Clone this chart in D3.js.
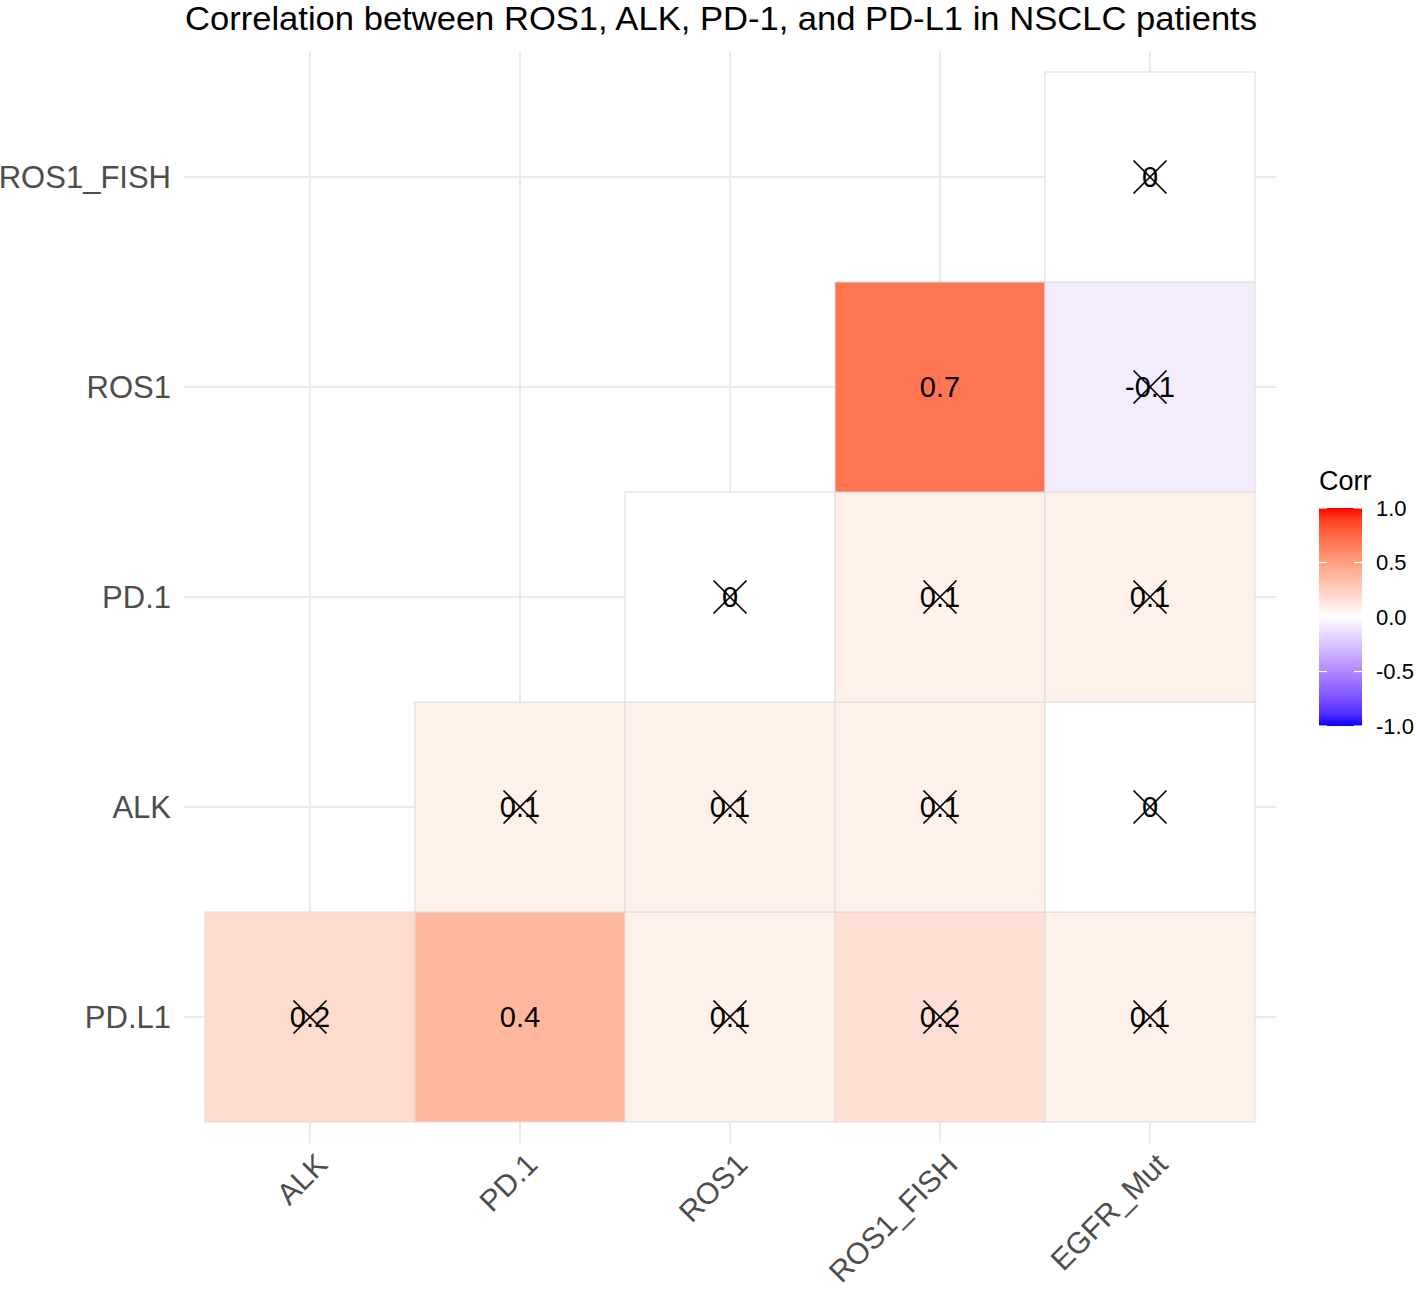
<!DOCTYPE html>
<html>
<head>
<meta charset="utf-8">
<script src="https://cdn.jsdelivr.net/npm/d3@7"></script>
<style>
  html, body { margin: 0; padding: 0; background: #fff; }
  svg { display: block; font-family: "Liberation Sans", Arial, Helvetica, sans-serif; }
</style>
</head>
<body>
<svg id="chart" width="1416" height="1294"></svg>
<script>
// ---- data ----
const xCategories = ["ALK", "PD.1", "ROS1", "ROS1_FISH", "EGFR_Mut"];
const yCategories = ["PD.L1", "ALK", "PD.1", "ROS1", "ROS1_FISH"]; // bottom to top
const cellX = ["ALK", "PD.1", "ROS1", "ROS1_FISH", "EGFR_Mut",
               "PD.1", "ROS1", "ROS1_FISH", "EGFR_Mut",
               "ROS1", "ROS1_FISH", "EGFR_Mut",
               "ROS1_FISH", "EGFR_Mut",
               "EGFR_Mut"];
const cellY = ["PD.L1", "PD.L1", "PD.L1", "PD.L1", "PD.L1",
               "ALK", "ALK", "ALK", "ALK",
               "PD.1", "PD.1", "PD.1",
               "ROS1", "ROS1",
               "ROS1_FISH"];
const corrValues = [0.19, 0.38, 0.08, 0.17, 0.08,
                    0.08, 0.08, 0.08, 0.0,
                    0.0, 0.08, 0.08,
                    0.70, -0.08,
                    0.0];
const insignificant = [true, false, true, true, true,
                       true, true, true, true,
                       true, true, true,
                       false, true,
                       true];
const legendTicks = [1.0, 0.5, 0.0, -0.5, -1.0];
const titleText = "Correlation between ROS1, ALK, PD-1, and PD-L1 in NSCLC patients";
const legendTitle = "Corr";

// ---- layout ----
const svg = d3.select("#chart");
const panel = { left: 184, right: 1276, top: 51, bottom: 1143 };

const x = d3.scaleBand().domain(xCategories)
  .range([panel.left, panel.right]).paddingOuter(0.1).paddingInner(0);
const y = d3.scaleBand().domain(yCategories.slice().reverse())
  .range([panel.top, panel.bottom]).paddingOuter(0.1).paddingInner(0);

const color = d3.scaleLinear().domain([-1, 0, 1])
  .range(["#0000FF", "#FFFFFF", "#FF0000"]).interpolate(d3.interpolateLab);

const cells = cellX.map((cx, i) => ({ x: cx, y: cellY[i], v: corrValues[i], cross: insignificant[i] }));

// grid lines
const grid = svg.append("g");
xCategories.forEach(c => {
  const cx = x(c) + x.bandwidth() / 2;
  grid.append("line").attr("x1", cx).attr("x2", cx).attr("y1", panel.top).attr("y2", panel.bottom)
    .attr("stroke", "#EBEBEB").attr("stroke-width", 2);
});
yCategories.forEach(c => {
  const cy = y(c) + y.bandwidth() / 2;
  grid.append("line").attr("y1", cy).attr("y2", cy).attr("x1", panel.left).attr("x2", panel.right)
    .attr("stroke", "#EBEBEB").attr("stroke-width", 2);
});

// tiles
svg.append("g").selectAll("rect").data(cells).join("rect")
  .attr("x", d => x(d.x)).attr("y", d => y(d.y))
  .attr("width", x.bandwidth()).attr("height", y.bandwidth())
  .attr("fill", d => color(d.v))
  .attr("stroke", "#DCDCDC").attr("stroke-width", 1);

// labels
const fmt = v => { const r = Math.round(v * 10) / 10; return r === 0 ? "0" : String(r); };
svg.append("g").selectAll("text").data(cells).join("text")
  .attr("x", d => x(d.x) + x.bandwidth() / 2)
  .attr("y", d => y(d.y) + y.bandwidth() / 2)
  .attr("dy", "0.36em")
  .attr("text-anchor", "middle")
  .attr("font-size", 29)
  .attr("fill", "#000")
  .text(d => fmt(d.v));

// crosses for insignificant
const crossHalf = 16.5;
const crosses = svg.append("g").selectAll("g").data(cells.filter(d => d.cross)).join("g")
  .attr("transform", d => `translate(${x(d.x) + x.bandwidth() / 2},${y(d.y) + y.bandwidth() / 2})`);
crosses.append("line").attr("x1", -crossHalf).attr("y1", -crossHalf).attr("x2", crossHalf).attr("y2", crossHalf)
  .attr("stroke", "#000").attr("stroke-width", 1.7);
crosses.append("line").attr("x1", -crossHalf).attr("y1", crossHalf).attr("x2", crossHalf).attr("y2", -crossHalf)
  .attr("stroke", "#000").attr("stroke-width", 1.7);

// y axis labels
svg.append("g").selectAll("text").data(yCategories).join("text")
  .attr("x", 171)
  .attr("y", d => y(d) + y.bandwidth() / 2)
  .attr("dy", "0.36em")
  .attr("text-anchor", "end")
  .attr("font-size", 31)
  .attr("fill", "#4D4D4D")
  .text(d => d);

// x axis labels (rotated 45)
svg.append("g").selectAll("text").data(xCategories).join("text")
  .attr("transform", d => `translate(${x(d) + x.bandwidth() / 2 + 4},${panel.bottom + 8}) rotate(-45)`)
  .attr("text-anchor", "end")
  .attr("dy", "0.72em")
  .attr("font-size", 30)
  .attr("fill", "#4D4D4D")
  .text(d => d);

// title
svg.append("text")
  .attr("x", 721).attr("y", 30)
  .attr("text-anchor", "middle")
  .attr("font-size", 33)
  .attr("textLength", 1072)
  .attr("lengthAdjust", "spacingAndGlyphs")
  .attr("fill", "#000")
  .text(titleText);

// legend
const legend = { x: 1319, w: 43, top: 508, bottom: 726 };
const ly = d3.scaleLinear().domain([1, -1]).range([legend.top, legend.bottom]);
const defs = svg.append("defs");
const grad = defs.append("linearGradient").attr("id", "corrGrad")
  .attr("x1", 0).attr("x2", 0).attr("y1", 0).attr("y2", 1);
d3.range(0, 21).forEach(i => {
  const v = 1 - i / 10;
  grad.append("stop").attr("offset", (i / 20)).attr("stop-color", color(v));
});
svg.append("text").attr("x", legend.x).attr("y", 490).attr("font-size", 27).attr("fill", "#000").text(legendTitle);
svg.append("rect").attr("x", legend.x).attr("y", legend.top)
  .attr("width", legend.w).attr("height", legend.bottom - legend.top)
  .attr("fill", "url(#corrGrad)");
const lt = svg.append("g");
legendTicks.forEach(t => {
  const ty = ly(t);
  lt.append("line").attr("x1", legend.x).attr("x2", legend.x + 8).attr("y1", ty).attr("y2", ty)
    .attr("stroke", "#fff").attr("stroke-width", 1.2);
  lt.append("line").attr("x1", legend.x + legend.w - 8).attr("x2", legend.x + legend.w).attr("y1", ty).attr("y2", ty)
    .attr("stroke", "#fff").attr("stroke-width", 1.2);
  lt.append("text").attr("x", 1376).attr("y", ty).attr("dy", "0.36em")
    .attr("font-size", 22).attr("fill", "#000").text(d3.format(".1f")(t).replace("−", "-"));
});
</script>
</body>
</html>
